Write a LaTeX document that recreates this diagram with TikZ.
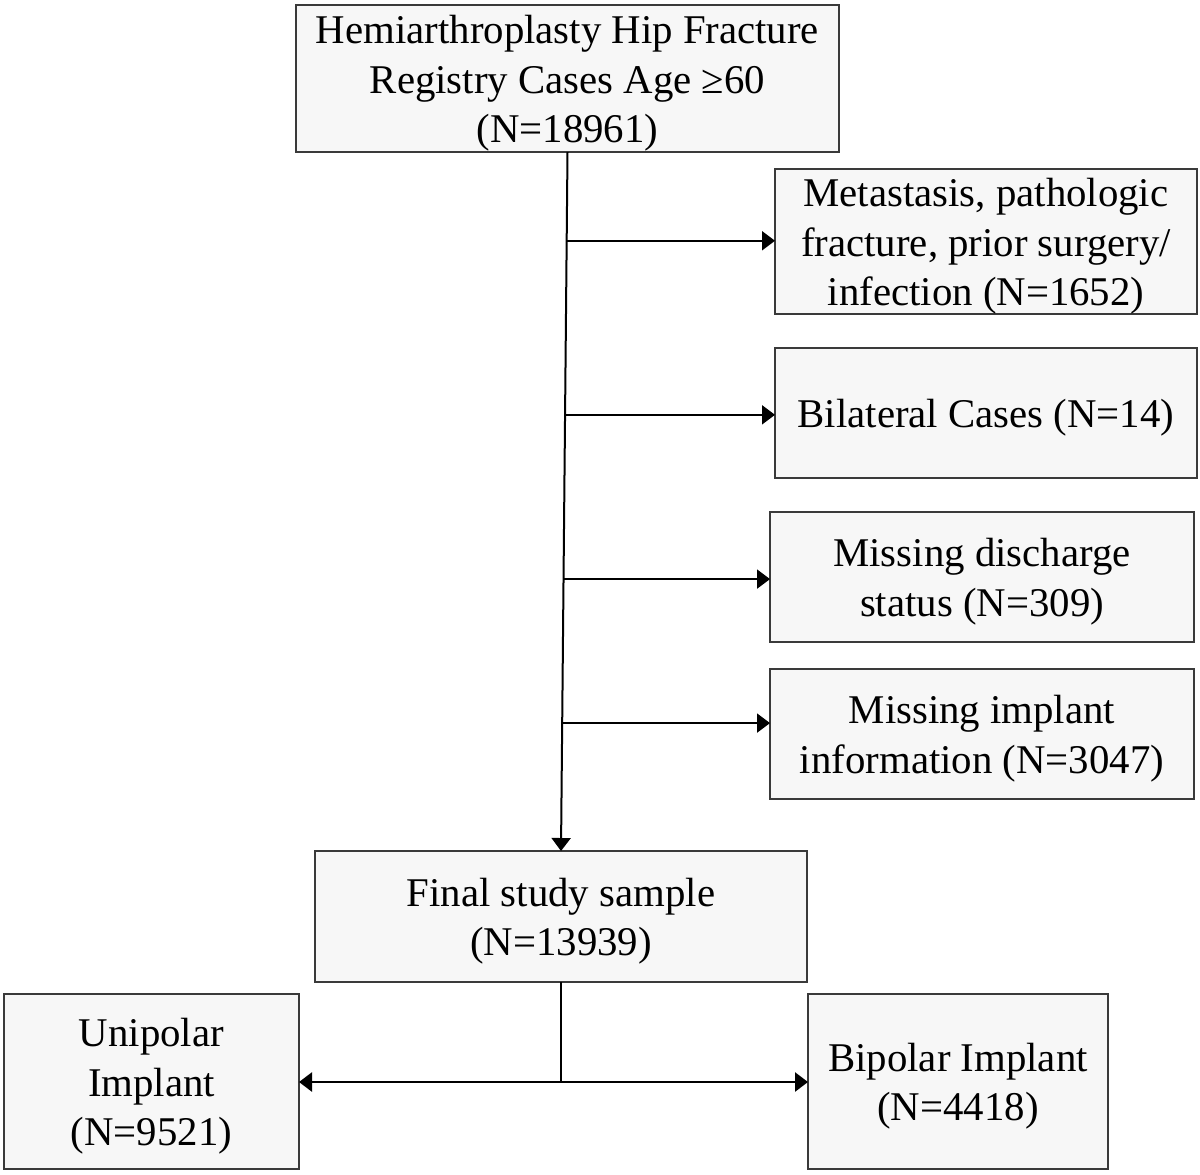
\documentclass[tikz,border=0pt]{standalone}
\usepackage{fontspec}
\setmainfont{Liberation Serif}
\usetikzlibrary{calc,arrows.meta}
\definecolor{boxfill}{HTML}{F7F7F7}
\definecolor{boxline}{HTML}{3A3A3A}
\newcommand\tpad{\rule{0pt}{19pt}}
\tikzset{
  box/.style={draw=boxline, fill=boxfill, line width=1pt, inner sep=0pt, outer sep=0pt,
    align=center, font=\fontsize{20.4}{24.8}\selectfont},
  conn/.style={line width=1pt, black},
  arr/.style={conn, -{Triangle[length=6.5pt,width=9.5pt]}},
}
\begin{document}
\begin{tikzpicture}[x=0.5pt,y=-0.5pt]
\useasboundingbox (0,0) rectangle (1200,1174);
\node[box, minimum width=271.5pt, minimum height=73.5pt] (top) at (567.5,78.5)
  {\tpad Hemiarthroplasty Hip Fracture\\Registry Cases Age ≥60\\(N=18961)};
\node[box, minimum width=211pt, minimum height=70.5pt] (m1) at (986,241.5)
  {\tpad Metastasis, pathologic\\fracture, prior surgery/\\infection (N=1652)};
\node[box, minimum width=211pt, minimum height=65pt] (m2) at (986,413)
  {\tpad Bilateral Cases (N=14)};
\node[box, minimum width=212pt, minimum height=65pt] (m3) at (982,577)
  {\tpad Missing discharge\\status (N=309)};
\node[box, minimum width=212pt, minimum height=65pt] (m4) at (982,734)
  {\tpad Missing implant\\information (N=3047)};
\node[box, minimum width=246pt, minimum height=65.5pt] (final) at (561,916.5)
  {\tpad Final study sample\\(N=13939)};
\node[box, minimum width=147.5pt, minimum height=87.5pt] (uni) at (151.5,1081.5)
  {\tpad Unipolar\\Implant\\(N=9521)};
\node[box, minimum width=150pt, minimum height=87.5pt] (bi) at (958,1081.5)
  {\tpad Bipolar Implant\\(N=4418)};
% main trunk
\draw[arr] (top.south) -- (final.north);
\coordinate (b1) at ($(top.south)!0.127!(final.north)$);
\coordinate (b2) at ($(top.south)!0.376!(final.north)$);
\coordinate (b3) at ($(top.south)!0.611!(final.north)$);
\coordinate (b4) at ($(top.south)!0.817!(final.north)$);
\draw[arr] (b1) -- (b1 -| m1.west);
\draw[arr] (b2) -- (b2 -| m2.west);
\draw[arr] (b3) -- (b3 -| m3.west);
\draw[arr] (b4) -- (b4 -| m4.west);
% bottom split
\coordinate (j) at ($(final.south)+(0,100)$);
\draw[conn] (final.south) -- (j);
\draw[arr, line width=1.3pt] (j) -- (j -| uni.east);
\draw[arr, line width=1.3pt] (j) -- (j -| bi.west);
\end{tikzpicture}
\end{document}
